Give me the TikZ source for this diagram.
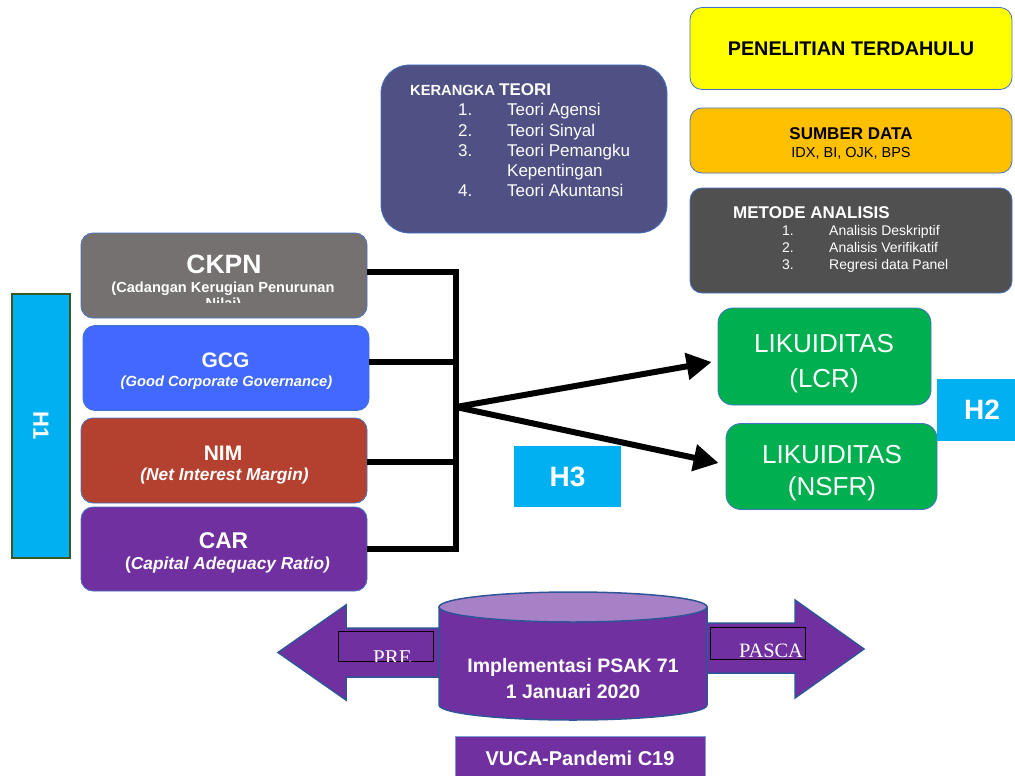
\documentclass[tikz,border=0pt]{standalone}
\usepackage{fontspec}
\setmainfont{Liberation Sans}
\newfontfamily\hurufserif{Liberation Serif}
\usepackage{tikz}
\usetikzlibrary{arrows.meta}

\definecolor{kuning}{RGB}{255,255,0}
\definecolor{oranye}{RGB}{255,192,0}
\definecolor{abutua}{RGB}{80,80,80}
\definecolor{teori}{RGB}{79,81,133}
\definecolor{ckpnabu}{RGB}{118,113,113}
\definecolor{gcgbiru}{RGB}{65,105,255}
\definecolor{nimmerah}{RGB}{180,65,48}
\definecolor{ungu}{RGB}{112,48,160}
\definecolor{ungumuda}{RGB}{167,129,198}
\definecolor{hijau}{RGB}{0,176,80}
\definecolor{cyanh}{RGB}{0,176,240}
\definecolor{garis}{RGB}{68,114,196}
\definecolor{garistua}{RGB}{47,85,151}
\definecolor{hijautua}{RGB}{56,87,35}

\newcommand{\ukuran}[1]{\fontsize{#1}{#1}\selectfont}

\tikzset{
  kotak/.style={draw=garis, line width=0.8pt, rounded corners=12pt, minimum width=286pt, minimum height=85pt, inner sep=0pt},
  kotakkanan/.style={draw=garis, line width=0.8pt, rounded corners=12pt, minimum width=322pt, inner sep=0pt},
  kotakhijau/.style={draw=garis, line width=0.8pt, rounded corners=15pt, fill=hijau, inner sep=0pt},
  hkotak/.style={fill=cyanh, text=white, inner sep=0pt, font=\bfseries\ukuran{28}},
  tulis/.style={text=white, anchor=base, inner sep=0pt},
  tuliskiri/.style={text=white, anchor=base west, inner sep=0pt},
  tebal/.style={line width=6pt},
  panah/.style={line width=6pt, -{Triangle[length=25pt,width=26pt]}},
  panahbesar/.style={fill=ungu, draw=garistua, line width=1.5pt, line join=miter},
}

\begin{document}
\begin{tikzpicture}[x=1pt, y=-1pt]
  \useasboundingbox (0,0) rectangle (1015,776);

  % kolom kanan atas
  \node[kotakkanan, fill=kuning, minimum height=82pt, font=\bfseries\ukuran{19.8}] (penelitian) at (851,48.5) {PENELITIAN TERDAHULU};

  \node[kotakkanan, fill=oranye, minimum height=65pt] (sumber) at (851,140.5) {};
  \node[anchor=base, inner sep=0pt, font=\bfseries\ukuran{17}] (sumberjudul) at (851,139) {SUMBER DATA};
  \node[anchor=base, inner sep=0pt, font=\ukuran{14.5}] (sumberisi) at (851,157) {IDX, BI, OJK, BPS};

  \node[kotakkanan, fill=abutua, minimum height=105pt] (metode) at (851,240.5) {};
  \node[tuliskiri, font=\bfseries\ukuran{17}] (metodejudul) at (733,218) {METODE ANALISIS};
  \foreach \t [count=\i] in {Analisis Deskriptif, Analisis Verifikatif, Regresi data Panel} {
    \node[tuliskiri, font=\ukuran{14}] (metodenomor\i) at (782,{218+17*\i}) {\i.};
    \node[tuliskiri, font=\ukuran{14}] (metodeitem\i) at (829,{218+17*\i}) {\t};
  }

  % kerangka teori
  \node[draw=garis, line width=0.8pt, rounded corners=28pt, fill=teori, minimum width=286pt, minimum height=168pt] (kerangka) at (524,149) {};
  \node[tuliskiri] (kerangkajudul) at (410,95.5) {\bfseries\ukuran{14.7}KERANGKA \ukuran{17}TEORI};
  \foreach \i/\y in {1/115, 2/136, 3/156, 4/196}
    \node[tuliskiri, font=\ukuran{17}] (teorinomor\i) at (458,\y) {\i.};
  \foreach \t/\y [count=\i] in {Teori Agensi/115, Teori Sinyal/136, Teori Pemangku/156, Kepentingan/176, Teori Akuntansi/196}
    \node[tuliskiri, font=\ukuran{17}] (teoriitem\i) at (507,\y) {\t};

  % variabel X
  \node[kotak, fill=ckpnabu] (ckpn) at (224,275.5) {};
  \node[tulis, font=\bfseries\ukuran{26.5}] (ckpnjudul) at (224,273) {CKPN};
  \node[tulis, font=\bfseries\ukuran{14.6}] (ckpnisi) at (223,292) {(Cadangan Kerugian Penurunan};
  \begin{scope}
    \clip (81,233) rectangle (367,302.5);
    \node[tulis, font=\bfseries\ukuran{14.6}] (ckpnsisa) at (223.5,308.5) {Nilai)};
  \end{scope}

  \node[kotak, fill=gcgbiru] (gcg) at (226,368) {};
  \node[tulis, font=\bfseries\ukuran{21}] (gcgjudul) at (225.5,367) {GCG};
  \node[tulis, font=\bfseries\itshape\ukuran{14.7}] (gcgisi) at (226.5,386) {(Good Corporate Governance)};

  \node[kotak, fill=nimmerah] (nim) at (224,460.5) {};
  \node[tulis, font=\bfseries\ukuran{21}] (nimjudul) at (223,460) {NIM};
  \node[tulis, font=\bfseries\itshape\ukuran{17.3}] (nimisi) at (224.5,480) {(Net Interest Margin)};

  \node[kotak, fill=ungu, minimum height=84pt] (car) at (224,549) {};
  \node[tulis, font=\bfseries\ukuran{22.8}] (carjudul) at (223.5,548) {CAR};
  \node[tulis, font=\bfseries\itshape\ukuran{17.3}] (carisi) at (227.5,569) {{\upshape(}Capital Adequacy Ratio)};

  \node[hkotak, draw=hijautua, line width=1.2pt, rotate=-90, minimum width=264pt, minimum height=58pt, font=\bfseries\ukuran{22}] (h1) at (41,426) {H1};

  % siku penghubung
  \coordinate (sikuatas) at (456,272);
  \coordinate (sikubawah) at (456,549);
  \draw[tebal] ([yshift=3.5pt]ckpn.east) -- (sikuatas) -- (sikubawah) -- (car.east);
  \draw[tebal] ([yshift=6pt]gcg.east) -- ([yshift=6pt]gcg.east -| sikuatas);
  \draw[tebal] ([yshift=-1.5pt]nim.east) -- ([yshift=-1.5pt]nim.east -| sikuatas);

  % variabel Y
  \node[kotakhijau, minimum width=213pt, minimum height=97pt] (lcr) at (824.5,356.5) {};
  \node[tulis, font=\ukuran{26}] (lcr1) at (824,352) {LIKUIDITAS};
  \node[tulis, font=\ukuran{26}] (lcr2) at (824,387) {(LCR)};
  \node[kotakhijau, minimum width=211pt, minimum height=86pt] (nsfr) at (831.5,466.5) {};
  \node[tulis, font=\ukuran{26}] (nsfr1) at (832,463) {LIKUIDITAS};
  \node[tulis, font=\ukuran{26}] (nsfr2) at (832,495) {(NSFR)};

  \coordinate (cabang) at (456,407);
  \draw[panah] (cabang) -- ([xshift=-6pt,yshift=-5.5pt]lcr.west);
  \draw[panah] (cabang) -- ([xshift=-7pt,yshift=3.5pt]nsfr.west);

  \node[hkotak, minimum width=90pt, minimum height=62pt] (h2) at (982,410) {H2};
  \node[hkotak, minimum width=107pt, minimum height=61pt] (h3) at (567.5,476.5) {H3};

  % PSAK 71
  \draw[panahbesar] (439,628) -- (346,628) -- (346,605) -- (278,652.5) -- (346,700) -- (346,677) -- (439,677) -- cycle;
  \draw[panahbesar] (707,623) -- (795,623) -- (795,600) -- (864,649) -- (795,698) -- (795,673) -- (707,673) -- cycle;

  \draw[fill=ungu, draw=garistua, line width=1.5pt] (439,607) -- (439,705) arc[start angle=180, end angle=0, x radius=134, y radius=15] -- (707,607) -- cycle;
  \draw[fill=ungumuda, draw=garistua, line width=1.5pt] (573,607) ellipse [x radius=134, y radius=15];
  \node[tulis, font=\bfseries\ukuran{19.5}] (psak1) at (573,672) {Implementasi PSAK 71};
  \node[tulis, font=\bfseries\ukuran{19.5}] (psak2) at (573,698) {1 Januari 2020};

  \node[draw=black, line width=0.8pt, minimum width=95pt, minimum height=30pt, inner sep=0pt] (pre) at (385.5,646) {};
  \begin{scope}
    \clip (pre.north west) rectangle (pre.south east);
    \node[tulis, font=\hurufserif\ukuran{21}] (preteks) at (392.5,664) {PRE};
  \end{scope}
  \node[draw=black, line width=0.8pt, minimum width=95pt, minimum height=32pt, inner sep=0pt] (pasca) at (757.5,643) {};
  \node[tulis, font=\hurufserif\ukuran{20.4}] (pascateks) at (771,657) {PASCA};

  \node[draw=garis!70, line width=1pt, fill=ungu, text=white, minimum width=250pt, minimum height=44pt, font=\bfseries\ukuran{20}] (vuca) at (580,758) {VUCA-Pandemi C19};
\end{tikzpicture}
\end{document}
